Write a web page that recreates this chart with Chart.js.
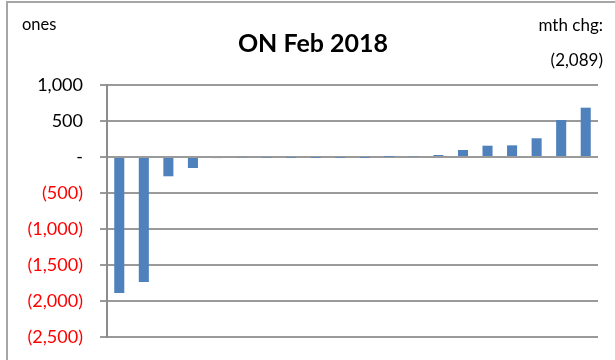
<!DOCTYPE html>
<html>
<head>
<meta charset="utf-8">
<script src="https://cdn.jsdelivr.net/npm/chart.js@4"></script>
<style>
  html, body { margin:0; padding:0; background:#fff; }
  #wrap { position:relative; width:615px; height:360px; overflow:hidden; font-family: Lato, "Open Sans", sans-serif; }
  #frame { position:absolute; left:6px; top:1px; width:640px; height:400px; border-left:2px solid #a6a6a6; border-top:2px solid #a6a6a6; box-sizing:border-box; }
  canvas { position:absolute; left:0; top:0; }
  .t { position:absolute; color:#000; white-space:nowrap; }
  #title { left:0; width:626px; text-align:center; top:27px; font-size:25px; font-weight:bold; }
  #ones { left:22px; top:14px; font-size:16.5px; }
  #mth { right:12px; top:14px; font-size:17px; }
  #chg { right:12px; top:49px; font-size:17px; }
</style>
</head>
<body>
<div id="wrap">
  <canvas id="c" width="615" height="360" style="width:615px;height:360px"></canvas>
  <div id="frame"></div>
  <div class="t" id="ones">ones</div>
  <div class="t" id="title">ON Feb 2018</div>
  <div class="t" id="mth">mth chg:</div>
  <div class="t" id="chg">(2,089)</div>
</div>
<script>
const categories = ["1","2","3","4","5","6","7","8","9","10","11","12","13","14","15","16","17","18","19","20"];
const values = [-1890, -1735, -268, -153, -15, -10, -8, -5, -3, -5, -3, 3, 10, 28, 97, 157, 162, 260, 514, 685];
const yTicks = [1000, 500, 0, -500, -1000, -1500, -2000, -2500];

function fmt(v) {
  if (v === 0) return "-";
  const s = Math.abs(v).toLocaleString("en-US");
  return v < 0 ? "(" + s + ")" : s;
}

new Chart(document.getElementById("c"), {
  type: "bar",
  data: {
    labels: categories,
    datasets: [{
      data: values,
      backgroundColor: "#4f81bd",
      borderWidth: 0,
      barPercentage: 0.41,
      categoryPercentage: 1.0
    }]
  },
  options: {
    responsive: false,
    animation: false,
    devicePixelRatio: 1,
    layout: { padding: { left: 0, top: 85, right: 17, bottom: 23 } },
    plugins: { legend: { display: false }, tooltip: { enabled: false }, title: { display: false } },
    scales: {
      x: { display: false },
      y: {
        min: -2500,
        max: 1000,
        afterBuildTicks: (axis) => { axis.ticks = yTicks.map(v => ({ value: v })); },
        afterFit: (axis) => { axis.width = 107; axis.paddingTop = 0; axis.paddingBottom = 0; },
        border: { display: true, color: "#8c8c8c", width: 2 },
        grid: { color: "#9a9a9a", lineWidth: 2, tickLength: 7, drawTicks: true },
        ticks: {
          padding: 17,
          font: { family: "Lato, 'Open Sans', sans-serif", size: 18 },
          color: (ctx) => (ctx.tick && ctx.tick.value < 0 ? "#ff0000" : "#000000"),
          callback: (v) => fmt(v)
        }
      }
    }
  }
});
</script>
</body>
</html>
